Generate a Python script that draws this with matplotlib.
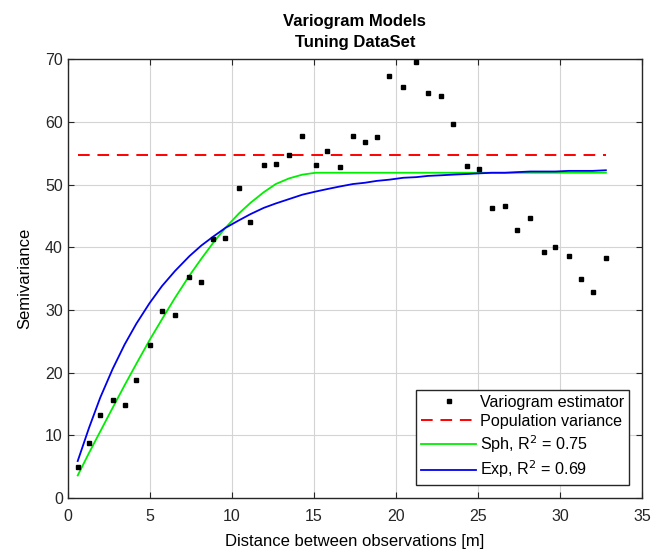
import matplotlib
matplotlib.use("Agg")
import matplotlib.pyplot as plt

plt.rcParams['font.family'] = ['Liberation Sans', 'DejaVu Sans']

# Lag distances [m] and experimental semivariance
lag = [0.61, 1.30, 1.98, 2.74, 3.47, 4.18, 4.99, 5.74, 6.53, 7.42, 8.15,
       8.86, 9.61, 10.43, 11.14, 11.95, 12.68, 13.49, 14.30, 15.11, 15.82,
       16.57, 17.38, 18.10, 18.83, 19.61, 20.45, 21.24, 21.97, 22.78, 23.49,
       24.32, 25.05, 25.84, 26.66, 27.39, 28.20, 29.01, 29.72, 30.53, 31.26,
       31.99, 32.80]
gamma = [4.9, 8.7, 13.2, 15.7, 14.8, 18.9, 24.4, 29.9, 29.2, 35.2, 34.5,
         41.3, 41.5, 49.4, 44.0, 53.1, 53.3, 54.8, 57.8, 53.1, 55.3,
         52.8, 57.8, 56.8, 57.6, 67.3, 65.6, 69.5, 64.6, 64.1, 59.7,
         52.9, 52.5, 46.2, 46.6, 42.8, 44.7, 39.2, 40.1, 38.6, 34.9,
         32.8, 38.3]

# Fitted spherical model evaluated at the lags
sph = [3.6, 7.2, 10.6, 14.4, 18.0, 21.4, 25.2, 28.5, 31.9, 35.5, 38.2,
       40.7, 43.1, 45.4, 47.1, 48.8, 50.1, 51.0, 51.6, 51.9, 51.9,
       51.9, 51.9, 51.9, 51.9, 51.9, 51.9, 51.9, 51.9, 51.9, 51.9,
       51.9, 51.9, 51.9, 51.9, 51.9, 51.9, 51.9, 51.9, 51.9, 51.9,
       51.9, 51.9]

# Fitted exponential model evaluated at the lags
expo = [5.9, 11.2, 16.0, 20.6, 24.5, 27.8, 31.1, 33.8, 36.2, 38.6, 40.3,
        41.7, 43.1, 44.3, 45.3, 46.3, 47.0, 47.7, 48.4, 48.9, 49.3,
        49.7, 50.1, 50.3, 50.6, 50.8, 51.1, 51.2, 51.4, 51.5, 51.6,
        51.7, 51.8, 51.9, 51.9, 52.0, 52.1, 52.1, 52.1, 52.2, 52.2,
        52.2, 52.3]

pop_var = 54.8
r2_sph = 0.75
r2_exp = 0.69

fig = plt.figure(figsize=(6.67, 5.56), dpi=100)
ax = fig.add_axes([0.1015, 0.1043, 0.861, 0.789])

ax.plot(lag, gamma, 's', color='black', markersize=3, linestyle='none',
        label='Variogram estimator', zorder=4)
ax.plot([lag[0], lag[-1]], [pop_var, pop_var], '--', color='#ff0000',
        linewidth=1.4, dashes=(6, 4), label='Population variance', zorder=3)
ax.plot(lag, sph, '-', color='#00ee00', linewidth=1.3,
        label='Sph, R$^2$ = %.2f' % r2_sph, zorder=3)
ax.plot(lag, expo, '-', color='#0000ee', linewidth=1.3,
        label='Exp, R$^2$ = %.2f' % r2_exp, zorder=3)

ax.set_xlim(0, 35)
ax.set_ylim(0, 70)
ax.set_xticks(range(0, 36, 5))
ax.set_yticks(range(0, 71, 10))
ax.grid(True, color='#d4d4d4', linewidth=0.8)
ax.set_axisbelow(True)
ax.tick_params(direction='in', top=True, right=True, labelsize=11.5,
               length=4, width=0.8, colors='#262626', labelcolor='#262626')
ax.tick_params(axis='x', pad=8)
for s in ax.spines.values():
    s.set_color('#262626')
    s.set_linewidth(1.0)

ax.set_title('Variogram Models\nTuning DataSet', fontsize=12,
             fontweight='bold', linespacing=1.5, pad=9)
ax.set_xlabel('Distance between observations [m]', fontsize=12, labelpad=7)
ax.set_ylabel('Semivariance', fontsize=12, labelpad=9)

leg = ax.legend(loc='lower right', fontsize=11.6, frameon=True, fancybox=False,
                edgecolor='#262626', framealpha=1, borderaxespad=0.8,
                handlelength=3.4, handletextpad=0.25, labelspacing=0.25,
                borderpad=0.3, markerscale=1.0)
leg.get_frame().set_linewidth(1.0)

fig.savefig('out.png', dpi=100)
